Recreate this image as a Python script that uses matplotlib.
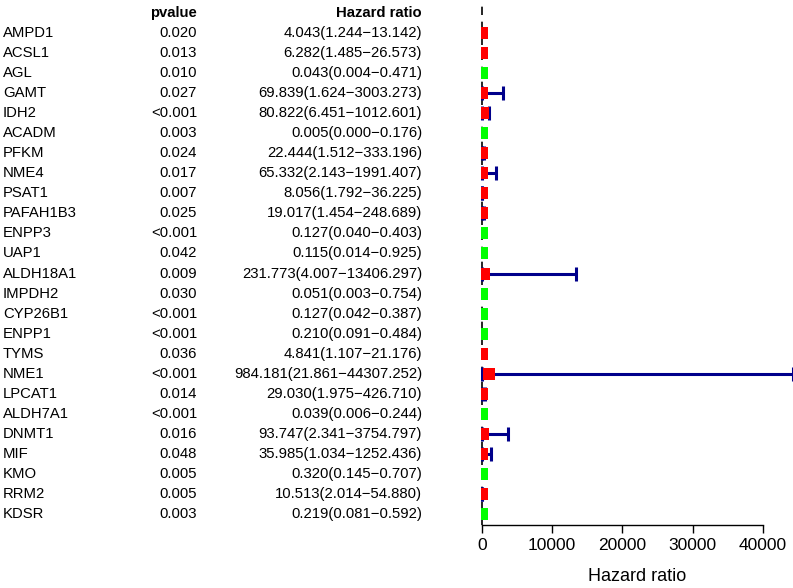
import matplotlib
matplotlib.use("Agg")
import matplotlib.pyplot as plt
import numpy as np

plt.rcParams['font.family'] = ['Liberation Sans', 'DejaVu Sans']

genes = ["AMPD1", "ACSL1", "AGL", "GAMT", "IDH2", "ACADM", "PFKM", "NME4", "PSAT1",
         "PAFAH1B3", "ENPP3", "UAP1", "ALDH18A1", "IMPDH2", "CYP26B1", "ENPP1", "TYMS",
         "NME1", "LPCAT1", "ALDH7A1", "DNMT1", "MIF", "KMO", "RRM2", "KDSR"]
pvalues = ["0.020", "0.013", "0.010", "0.027", "<0.001", "0.003", "0.024", "0.017", "0.007",
           "0.025", "<0.001", "0.042", "0.009", "0.030", "<0.001", "<0.001", "0.036",
           "<0.001", "0.014", "<0.001", "0.016", "0.048", "0.005", "0.005", "0.003"]
hr = [4.043, 6.282, 0.043, 69.839, 80.822, 0.005, 22.444, 65.332, 8.056,
      19.017, 0.127, 0.115, 231.773, 0.051, 0.127, 0.210, 4.841,
      984.181, 29.030, 0.039, 93.747, 35.985, 0.320, 10.513, 0.219]
hr_low = [1.244, 1.485, 0.004, 1.624, 6.451, 0.000, 1.512, 2.143, 1.792,
          1.454, 0.040, 0.014, 4.007, 0.003, 0.042, 0.091, 1.107,
          21.861, 1.975, 0.006, 2.341, 1.034, 0.145, 2.014, 0.081]
hr_high = [13.142, 26.573, 0.471, 3003.273, 1012.601, 0.176, 333.196, 1991.407, 36.225,
           248.689, 0.403, 0.925, 13406.297, 0.754, 0.387, 0.484, 21.176,
           44307.252, 426.710, 0.244, 3754.797, 1252.436, 0.707, 54.880, 0.592]
xticks = [0, 10000, 20000, 30000, 40000]

n = len(genes)
ypos = np.arange(n, 0, -1)
ylim = (0.45, 26.65)

fig = plt.figure(figsize=(7.93, 5.88), dpi=100)
W, H = 793, 588
ax_left = 481 / W
ax_bottom = 63 / H
ax_h = 1 - ax_bottom

# text table
axt = fig.add_axes([0, ax_bottom, ax_left, ax_h])
axt.set_xlim(0, 481)
axt.set_ylim(*ylim)
axt.axis('off')
fs = 10.7
header_y = n + 1
axt.text(197, header_y, "pvalue", ha='right', va='center', fontsize=fs, fontweight='bold')
axt.text(422, header_y, "Hazard ratio", ha='right', va='center', fontsize=fs, fontweight='bold')
for g, p, h, lo, hi, y in zip(genes, pvalues, hr, hr_low, hr_high, ypos):
    axt.text(3, y, g, ha='left', va='center', fontsize=fs)
    axt.text(197, y, p, ha='right', va='center', fontsize=fs)
    axt.text(422, y, f"{h:.3f}({lo:.3f}\u2212{hi:.3f})", ha='right', va='center', fontsize=fs)

# forest
ax = fig.add_axes([ax_left, ax_bottom, 1 - ax_left, ax_h])
xmax = max(hr_high)
ax.set_xlim(-xmax / 311, xmax)
ax.set_ylim(*ylim)
ax.axvline(1, color='black', lw=1.2, linestyle=(0, (5, 4)), zorder=1)

fig.canvas.draw()
trans = ax.transData
for h, lo, hi, y in zip(hr, hr_low, hr_high, ypos):
    px = trans.transform([(lo, y), (hi, y)])
    if px[1, 0] - px[0, 0] < 0.2:
        continue
    ax.errorbar([h], [y], xerr=[[h - lo], [hi - h]], fmt='none', ecolor='#00008B',
                elinewidth=2.2, capsize=5, capthick=2.2, zorder=2)

colors = ['#FF0000' if h > 1 else '#00FF00' for h in hr]
for h, y, c in zip(hr, ypos, colors):
    ax.plot([h], [y], marker='s', markersize=8, color=c, markeredgewidth=0,
            linestyle='none', zorder=3)

for s in ['top', 'right', 'left']:
    ax.spines[s].set_visible(False)
ax.spines['bottom'].set_bounds(xticks[0], xticks[-1])
ax.spines['bottom'].set_linewidth(1.0)
ax.set_xticks(xticks)
ax.set_xticklabels([str(t) for t in xticks])
ax.set_yticks([])
ax.tick_params(axis='x', length=5.5, width=1.0, labelsize=12.5, pad=4)
ax.set_xlabel("Hazard ratio", fontsize=13, labelpad=11)

fig.savefig("out.png", dpi=100)
